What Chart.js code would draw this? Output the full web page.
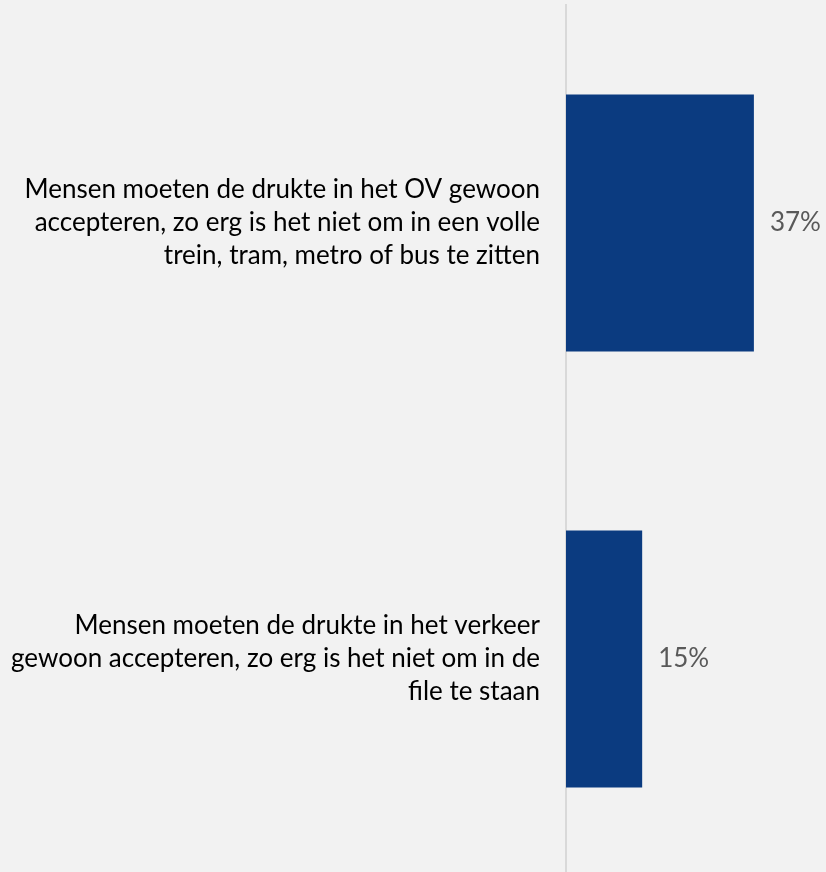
<!DOCTYPE html>
<html>
<head>
<meta charset="utf-8">
<script src="https://cdn.jsdelivr.net/npm/chart.js@4"></script>
<style>
  html, body { margin: 0; padding: 0; background: #f2f2f2; overflow: hidden; }
  #wrap { position: relative; width: 826px; height: 877px; }
</style>
</head>
<body>
<div id="wrap"><canvas id="chart"></canvas></div>
<script>
// ===== DATA =====
const categories = [
  ["Mensen moeten de drukte in het OV gewoon", "accepteren, zo erg is het niet om in een volle", "trein, tram, metro of bus te zitten"],
  ["Mensen moeten de drukte in het verkeer", "gewoon accepteren, zo erg is het niet om in de", "file te staan"]
];
const values = [37, 15];
const valueLabels = ["37%", "15%"];

// ===== STYLE =====
const FONT = "Lato, 'Open Sans', sans-serif";
const BAR = "#0b3b80";

// value text to the right of each bar
const valueText = {
  id: "valueText",
  afterDatasetsDraw(chart) {
    const ctx = chart.ctx;
    const meta = chart.getDatasetMeta(0);
    ctx.save();
    ctx.font = "26px " + FONT;
    ctx.fillStyle = "#595959";
    ctx.textAlign = "left";
    ctx.textBaseline = "middle";
    meta.data.forEach((bar, i) => {
      ctx.fillText(valueLabels[i], bar.x + 16, bar.y);
    });
    ctx.restore();
  }
};

new Chart(document.getElementById("chart"), {
  type: "bar",
  data: {
    labels: categories,
    datasets: [{ data: values, backgroundColor: BAR, categoryPercentage: 1, barPercentage: 0.59 }]
  },
  options: {
    indexAxis: "y",
    responsive: true,
    maintainAspectRatio: false,
    animation: false,
    layout: { padding: { top: 5, right: 0, bottom: 0, left: 0 } },
    plugins: { legend: { display: false }, tooltip: { enabled: false } },
    scales: {
      x: { display: false, min: 0, max: 51.2 },
      y: {
        grid: { display: false },
        border: { display: true, color: "#d9d9d9", width: 2 },
        ticks: { color: "#000", padding: 18, font: { family: FONT, size: 26, lineHeight: "33px" } },
        afterFit: (s) => { s.width = 566; s.paddingTop = 0; s.paddingBottom = 0; }
      }
    }
  },
  plugins: [valueText]
});
</script>
</body>
</html>
